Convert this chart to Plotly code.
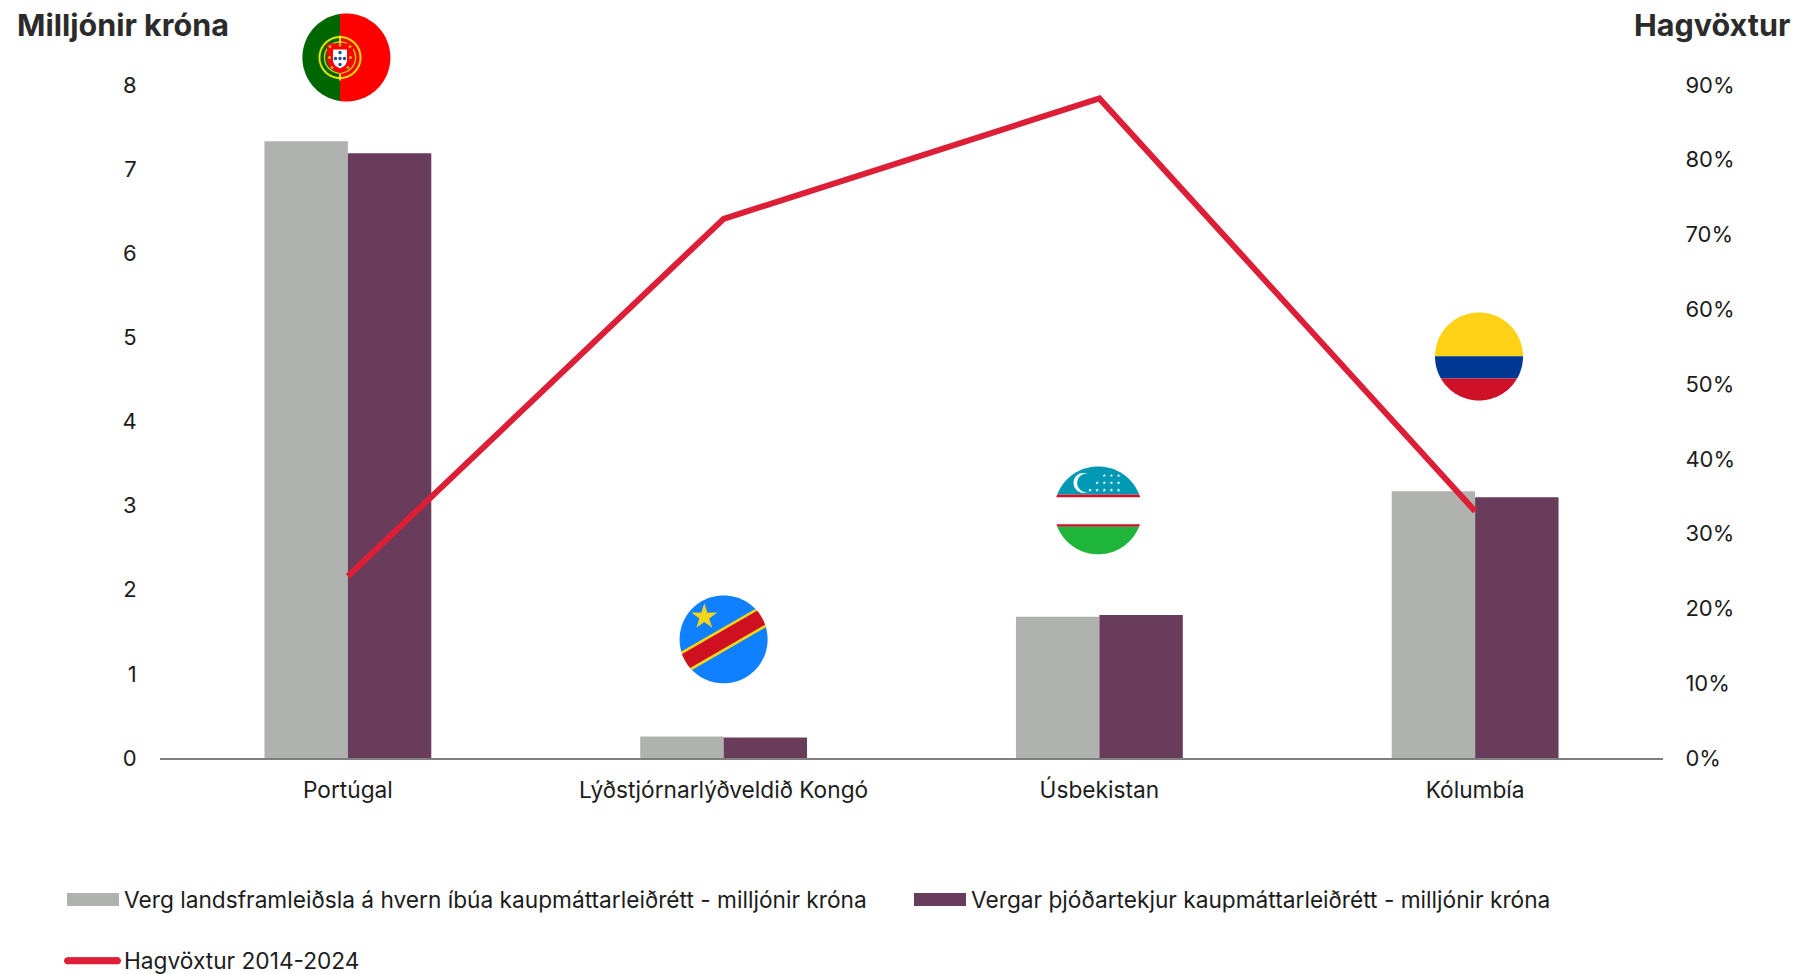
import math
import plotly.graph_objects as go

categories = ["Portúgal", "Lýðstjórnarlýðveldið Kongó", "Úsbekistan", "Kólumbía"]
gdp_per_capita = [7.33, 0.255, 1.68, 3.17]
gni_per_capita = [7.19, 0.245, 1.70, 3.10]
growth = [0.243, 0.721, 0.882, 0.33]

name_gdp = "Verg landsframleiðsla á hvern íbúa kaupmáttarleiðrétt - milljónir króna"
name_gni = "Vergar þjóðartekjur kaupmáttarleiðrétt - milljónir króna"
name_growth = "Hagvöxtur 2014-2024"

GREY, PURPLE, RED = "#B0B2AF", "#6A3C5C", "#DC1F37"
TEXT = "#1c1c1c"
FONT = "Inter"
W, H = 1796, 974
L, R, T, B = 160, 133, 84.5, 216
PW, PH = W - L - R, H - T - B


def X(px):
    return (px - L) / PW


def Y(py):
    return 1 - (py - T) / PH


def path_of(points):
    return "M" + "L".join(f"{X(a):.5f},{Y(b):.5f}" for a, b in points) + "Z"


def circle(cx, cy, r, n=120):
    return [(cx + r * math.cos(2 * math.pi * i / n), cy + r * math.sin(2 * math.pi * i / n)) for i in range(n)]


def clip(points, a, b, c):
    """Keep the part of a polygon where a*x + b*y <= c."""
    out = []
    for i, p in enumerate(points):
        q = points[(i + 1) % len(points)]
        dp, dq = a * p[0] + b * p[1] - c, a * q[0] + b * q[1] - c
        if dp <= 0:
            out.append(p)
        if dp * dq < 0:
            t = dp / (dp - dq)
            out.append((p[0] + t * (q[0] - p[0]), p[1] + t * (q[1] - p[1])))
    return out


def star(cx, cy, r, inner=0.38, rot=-math.pi / 2):
    pts = []
    for i in range(10):
        rr = r if i % 2 == 0 else r * inner
        ang = rot + i * math.pi / 5
        pts.append((cx + rr * math.cos(ang), cy + rr * math.sin(ang)))
    return pts


shapes = []


def fill(points, color):
    shapes.append(dict(type="path", xref="paper", yref="paper", path=path_of(points),
                       fillcolor=color, line=dict(width=0), layer="above"))


def ring(cx, cy, r, color, width):
    shapes.append(dict(type="path", xref="paper", yref="paper", path=path_of(circle(cx, cy, r)),
                       fillcolor="rgba(0,0,0,0)", line=dict(color=color, width=width), layer="above"))


def hband(cx, cy, r, y0, y1, color):
    p = clip(clip(circle(cx, cy, r), 0, -1, -y0), 0, 1, y1)
    fill(p, color)


# Portugal flag
cx, cy, r = 346.4, 57, 44
fill(clip(circle(cx, cy, r), 1, 0, 340), "#006600")
fill(clip(circle(cx, cy, r), -1, 0, -340), "#FF0000")
ring(340, 57, 20.5, "#E6E600", 2)
ring(340, 57, 15.5, "#C8C820", 1.5)
fill([(339.2, 35), (340.8, 35), (340.8, 80), (339.2, 80)], "#FFFF00")
fill([(327, 43), (353, 43), (353, 60), (350, 68), (340, 73), (330, 68), (327, 60)], "#FF0000")
fill([(333, 49), (347, 49), (347, 61), (345, 65), (340, 68), (335, 65), (333, 61)], "#FFFFFF")
for sx, sy in [(340, 52), (335.5, 58), (340, 58), (344.5, 58), (340, 64)]:
    fill(circle(sx, sy, 1.7, 12), "#1A4FA0")
for sx, sy in [(330, 46), (340, 44.5), (350, 46), (329.5, 57), (350.5, 57), (332, 67), (348, 67)]:
    fill(circle(sx, sy, 1.6, 12), "#C9A818")

# DR Congo flag
cx, cy, r = 723.6, 639.3, 44
fill(circle(cx, cy, r), "#0F80FF")
sa, ca = math.sin(math.radians(30)), math.cos(math.radians(30))


def slanted(half, color):
    # band along a line rising 30 degrees to the right, through the centre
    a, b = sa, ca
    c0 = a * cx + b * cy
    fill(clip(clip(circle(cx, cy, r), a, b, c0 + half), -a, -b, -(c0 - half)), color)


slanted(10.6, "#F7D618")
slanted(8.0, "#CE1021")
fill(star(704.3, 616.7, 13.6), "#F7D618")

# Uzbekistan flag
cx, cy, r = 1098.2, 510.2, 44
hband(cx, cy, r, 466, 494.3, "#0099B5")
hband(cx, cy, r, 494.3, 497, "#CE1126")
hband(cx, cy, r, 524, 526.7, "#CE1126")
hband(cx, cy, r, 526.7, 555, "#1EB53A")
fill(circle(1083.5, 482.7, 10), "#FFFFFF")
fill(circle(1086.5, 482.7, 9.3), "#0099B5")
for sy, xs in [(475.3, (1104.3, 1111.4, 1118.6)),
               (482.7, (1097.1, 1104.3, 1111.4, 1118.6)),
               (490, (1090, 1097.1, 1104.3, 1111.4, 1118.6))]:
    for sx in xs:
        fill(star(sx, sy, 1.9), "#FFFFFF")

# Colombia flag
cx, cy, r = 1479, 356.2, 44
hband(cx, cy, r, 312, 356, "#FCD116")
hband(cx, cy, r, 356, 378.3, "#003893")
hband(cx, cy, r, 378.3, 401, "#CE1126")

# full-thickness legend keys
fill([(67, 893), (119, 893), (119, 906), (67, 906)], GREY)
fill([(914, 893), (966, 893), (966, 906), (914, 906)], PURPLE)
fill([(67.5, 957.5), (117.5, 957.5)] + circle(117.5, 961, 3.5, 24)[18:] + circle(117.5, 961, 3.5, 24)[:7]
     + [(67.5, 964.5)] + circle(67.5, 961, 3.5, 24)[6:19], RED)

fig = go.Figure()
fig.add_bar(x=categories, y=gdp_per_capita, name=name_gdp, marker=dict(color=GREY, line=dict(width=0)),
            showlegend=False, yaxis="y")
fig.add_bar(x=categories, y=gni_per_capita, name=name_gni, marker=dict(color=PURPLE, line=dict(width=0)),
            showlegend=False, yaxis="y")
fig.add_scatter(x=categories, y=growth, name=name_growth, mode="lines", yaxis="y2",
                line=dict(color=RED, width=6), legend="legend3")
# legend keys drawn as wide rectangles, as in the reference
fig.add_scatter(x=[None], y=[None], name=name_gdp, mode="lines", line=dict(color=GREY, width=13), legend="legend")
fig.add_scatter(x=[None], y=[None], name=name_gni, mode="lines", line=dict(color=PURPLE, width=13), legend="legend2")

tick_font = dict(family=FONT, size=22, color=TEXT)
label_font = dict(family=FONT, size=22.7, color=TEXT)
title_font = dict(family=FONT, size=30.5, color="#2b2b2b", weight=700)
hidden_tick = dict(ticks="outside", tickcolor="rgba(0,0,0,0)")


def legend_at(px, py):
    return dict(orientation="h", x=X(px), y=Y(py), xanchor="left", yanchor="middle", itemwidth=52,
                font=label_font, bgcolor="rgba(0,0,0,0)", itemclick=False, itemdoubleclick=False)


fig.update_layout(
    width=W, height=H,
    margin=dict(l=L, r=R, t=T, b=B, autoexpand=False),
    plot_bgcolor="white", paper_bgcolor="white",
    barmode="group", bargap=0.556, bargroupgap=0,
    font=tick_font,
    xaxis=dict(type="category", categoryorder="array", categoryarray=categories, showgrid=False,
               showline=True, linecolor="#7F7F7F", linewidth=2, ticklen=11, zeroline=False,
               tickfont=label_font, **hidden_tick),
    yaxis=dict(range=[0, 8], dtick=1, showgrid=False, zeroline=False, showline=False, ticklen=18,
               tickfont=tick_font, **hidden_tick),
    yaxis2=dict(range=[0, 0.9], dtick=0.1, tickformat=".0%", overlaying="y", side="right", showgrid=False,
                zeroline=False, showline=False, ticklen=17, tickfont=tick_font, **hidden_tick),
    legend=legend_at(62, 899),
    legend2=legend_at(909, 899),
    legend3=legend_at(62, 961),
    annotations=[
        dict(text="Milljónir króna", xref="paper", yref="paper", x=X(15), y=Y(24), xanchor="left",
             yanchor="middle", showarrow=False, font=title_font),
        dict(text="Hagvöxtur", xref="paper", yref="paper", x=X(1792), y=Y(24), xanchor="right",
             yanchor="middle", showarrow=False, font=title_font),
    ],
    shapes=shapes,
)
fig.write_html("out.html", config=dict(displayModeBar=False),
               post_script="document.body.style.margin='0';document.documentElement.style.overflow='hidden';")
